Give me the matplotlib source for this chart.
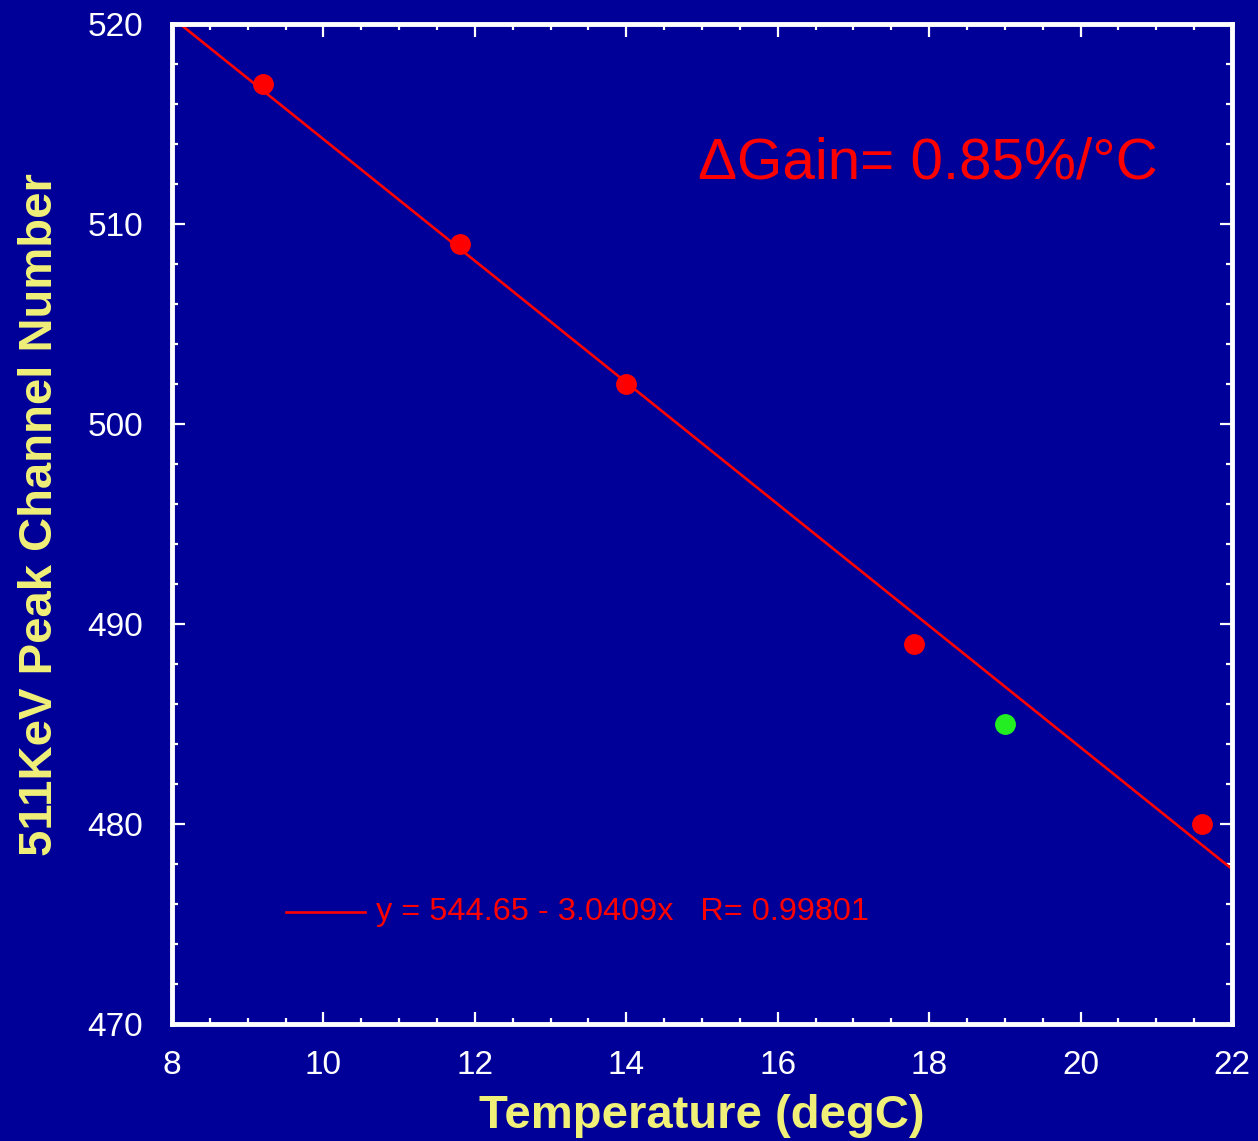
import numpy as np
import matplotlib
matplotlib.use('Agg')
import matplotlib.pyplot as plt
from matplotlib.ticker import MultipleLocator

# measured peak positions
temp_red = [9.2, 11.8, 14.0, 17.8, 21.6]
peak_red = [517, 509, 502, 489, 480]
temp_green = [19.0]
peak_green = [485]

# linear fit reported on the chart
fit_a = 544.65
fit_b = -3.0409
fit_r = 0.99801

bg = '#000099'
yellow = '#f0f078'

plt.rcParams['font.family'] = ['Liberation Sans', 'DejaVu Sans']

fig = plt.figure(figsize=(12.58, 11.41), dpi=100)
fig.patch.set_facecolor(bg)
ax = fig.add_axes([0.1367, 0.1025, 0.8426, 0.8765])
ax.set_facecolor(bg)

xfit = np.array([8.0, 22.0])
ax.plot(xfit, fit_a + fit_b * xfit, color='red', lw=1.9, zorder=2)
ax.plot(temp_red, peak_red, 'o', color='red', ms=14, zorder=3)
ax.plot(temp_green, peak_green, 'o', color='#22ee22', ms=14, zorder=3)

ax.set_xlim(8, 22)
ax.set_ylim(470, 520)
ax.xaxis.set_major_locator(MultipleLocator(2))
ax.xaxis.set_minor_locator(MultipleLocator(0.5))
ax.yaxis.set_major_locator(MultipleLocator(10))
ax.yaxis.set_minor_locator(MultipleLocator(2))

for s in ax.spines.values():
    s.set_color('white')
    s.set_linewidth(3.5)
ax.tick_params(which='both', direction='in', top=True, right=True, colors='white',
               width=1.6, labelsize=24, labelcolor='white')
ax.tick_params(which='major', length=9)
ax.tick_params(which='minor', length=4.5)
ax.tick_params(axis='y', which='major', pad=21)
ax.tick_params(axis='x', which='major', pad=19)

ax.set_xlabel('Temperature (degC)', color=yellow, fontsize=34, fontweight='bold', labelpad=9)
ax.set_ylabel('511KeV Peak Channel Number', color=yellow, fontsize=34, fontweight='bold', labelpad=18)
ax.yaxis.label.set_y(0.509)

ax.text(0.713, 0.86, '\u0394Gain= 0.85%/\u00b0C', transform=ax.transAxes, color='red',
        fontsize=42, ha='center', va='center')

# legend-like fit label
ax.plot([9.5, 10.55], [475.6, 475.6], color='red', lw=1.9)
ax.text(10.7, 475.6, 'y = %.2f - %.4fx   R= %.5f' % (fit_a, -fit_b, fit_r),
        color='red', fontsize=23.4, ha='left', va='center')

fig.savefig('out.png', dpi=100, facecolor=bg)
